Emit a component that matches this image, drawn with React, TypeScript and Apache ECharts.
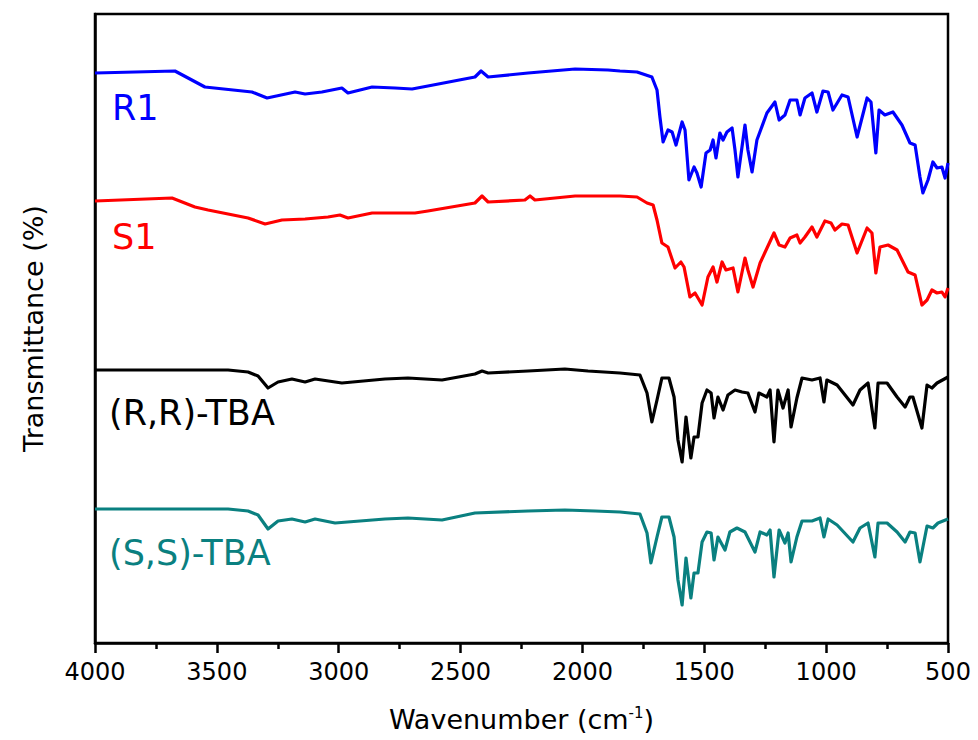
import React, { useEffect, useRef } from "react";
import * as echarts from "echarts";

// Wavenumber (cm-1) and offset transmittance (arbitrary units)
const r1Wn = [4000, 3672, 3549, 3356, 3294, 3179, 3138, 3069, 2987, 2962, 2863, 2769, 2699, 2634, 2441, 2416, 2387, 2223, 2030, 1895, 1846, 1776, 1715, 1694, 1682, 1669, 1649, 1632, 1616, 1591, 1579, 1563, 1542, 1530, 1513, 1493, 1476, 1464, 1452, 1436, 1423, 1407, 1386, 1374, 1362, 1333, 1321, 1304, 1284, 1243, 1210, 1193, 1169, 1148, 1120, 1107, 1087, 1058, 1038, 1013, 992, 972, 935, 910, 873, 832, 816, 796, 783, 759, 726, 689, 656, 635, 615, 603, 582, 562, 545, 525, 512, 500];
const r1T = [570, 572, 556, 551, 545, 551, 549, 551, 555, 550, 556, 555, 554, 557, 566, 572, 566, 570, 574, 573, 572, 571, 566, 553, 526, 501, 513, 511, 498, 521, 513, 463, 476, 470, 456, 490, 493, 503, 485, 510, 503, 511, 515, 493, 466, 518, 493, 471, 503, 530, 541, 523, 528, 543, 543, 528, 545, 550, 531, 552, 551, 533, 548, 546, 506, 545, 541, 490, 533, 528, 531, 518, 500, 498, 466, 450, 463, 481, 475, 476, 465, 480];

const s1Wn = [4000, 3684, 3590, 3536, 3372, 3302, 3233, 3138, 3044, 2995, 2962, 2863, 2798, 2687, 2634, 2441, 2412, 2387, 2236, 2215, 2195, 2030, 1895, 1846, 1776, 1735, 1710, 1694, 1674, 1649, 1620, 1596, 1583, 1559, 1538, 1509, 1485, 1464, 1448, 1427, 1411, 1382, 1362, 1333, 1321, 1300, 1271, 1214, 1193, 1169, 1148, 1120, 1107, 1087, 1058, 1038, 1005, 980, 964, 935, 910, 873, 832, 812, 796, 779, 746, 709, 664, 635, 607, 586, 566, 545, 525, 512, 500];
const s1T = [442, 445, 436, 433, 425, 419, 423, 424, 426, 428, 425, 430, 430, 430, 432, 440, 447, 441, 443, 447, 443, 447, 447, 447, 446, 440, 438, 423, 400, 396, 375, 381, 376, 346, 350, 338, 366, 376, 361, 381, 373, 375, 351, 385, 373, 356, 380, 410, 398, 396, 405, 408, 400, 406, 416, 406, 422, 420, 413, 419, 418, 390, 415, 410, 370, 396, 398, 393, 371, 368, 338, 343, 353, 350, 351, 346, 355];

const rrWn = [4000, 3454, 3372, 3331, 3290, 3249, 3192, 3138, 3097, 2987, 2810, 2716, 2576, 2441, 2412, 2387, 2223, 2072, 1977, 1846, 1764, 1735, 1715, 1694, 1674, 1645, 1624, 1608, 1591, 1575, 1555, 1542, 1526, 1509, 1489, 1472, 1460, 1444, 1423, 1403, 1374, 1345, 1321, 1292, 1276, 1243, 1230, 1214, 1198, 1177, 1156, 1144, 1120, 1099, 1058, 1025, 1009, 997, 955, 890, 861, 828, 800, 787, 750, 709, 676, 656, 644, 607, 586, 566, 545, 500];
const rrT = [273, 273, 271, 267, 255, 261, 264, 261, 264, 260, 264, 265, 263, 269, 272, 270, 272, 274, 272, 270, 268, 250, 221, 243, 265, 265, 246, 203, 181, 226, 185, 206, 206, 240, 253, 250, 225, 246, 233, 248, 253, 251, 250, 231, 250, 246, 253, 201, 253, 235, 253, 216, 245, 265, 263, 265, 241, 263, 258, 238, 253, 260, 215, 260, 260, 246, 236, 246, 246, 215, 258, 255, 260, 266];

const ssWn = [4000, 3454, 3372, 3331, 3290, 3249, 3192, 3138, 3097, 3015, 2810, 2716, 2576, 2441, 2223, 2072, 1948, 1846, 1764, 1735, 1719, 1694, 1674, 1645, 1624, 1608, 1591, 1575, 1555, 1542, 1526, 1509, 1489, 1472, 1460, 1444, 1415, 1395, 1366, 1333, 1292, 1271, 1243, 1230, 1214, 1193, 1169, 1156, 1144, 1120, 1099, 1058, 1025, 1009, 992, 955, 890, 861, 828, 800, 787, 750, 709, 676, 656, 635, 615, 586, 562, 541, 500];
const ssT = [134, 134, 132, 128, 114, 122, 124, 121, 124, 120, 124, 125, 123, 130, 132, 133, 132, 131, 129, 110, 80, 106, 126, 126, 106, 63, 38, 85, 45, 70, 70, 101, 111, 110, 83, 106, 93, 111, 115, 111, 91, 111, 108, 113, 66, 113, 100, 110, 81, 106, 122, 122, 125, 106, 124, 118, 101, 115, 120, 86, 120, 120, 111, 101, 111, 110, 81, 117, 115, 120, 124];

const xTicks = [4000, 3500, 3000, 2500, 2000, 1500, 1000, 500];
const seriesNames = ["R1", "S1", "(R,R)-TBA", "(S,S)-TBA"];
const seriesColors = ["#0000FF", "#FF0000", "#000000", "#0A8080"];

const FONT = "DejaVu Sans";

function pairs(xs: number[], ys: number[]) {
  return xs.map((x, i) => [x, ys[i]]);
}

export default function App() {
  const ref = useRef<HTMLDivElement>(null);
  useEffect(() => {
    if (!ref.current) return;
    const chart = echarts.init(ref.current, null, { renderer: "svg" });
    const datasets = [pairs(r1Wn, r1T), pairs(s1Wn, s1T), pairs(rrWn, rrT), pairs(ssWn, ssT)];
    const labelPos = [
      { x: 112, y: 108 },
      { x: 112, y: 237 },
      { x: 109, y: 413 },
      { x: 109, y: 553 },
    ];
    chart.setOption({
      animation: false,
      backgroundColor: "#ffffff",
      grid: {
        left: 95,
        right: 30,
        top: 14,
        bottom: 97,
        show: true,
        borderColor: "#000",
        borderWidth: 2.5,
      },
      xAxis: {
        type: "value",
        min: 500,
        max: 4000,
        interval: 500,
        inverse: true,
        axisLine: { show: true, lineStyle: { color: "#000", width: 2.5 } },
        axisTick: { show: true, inside: false, length: 10, lineStyle: { color: "#000", width: 2.5 } },
        minorTick: { show: true, splitNumber: 2, length: 6, lineStyle: { color: "#000", width: 2.5 } },
        splitLine: { show: false },
        axisLabel: {
          color: "#000",
          fontSize: 24,
          fontFamily: FONT,
          margin: 17,
          formatter: (v: number) => (xTicks.includes(v) ? String(v) : ""),
        },
        name: "{a|Wavenumber (cm}{s|-1}{a|)}",
        nameLocation: "middle",
        nameGap: 62,
        nameTextStyle: {
          rich: {
            a: { fontSize: 27, fontFamily: FONT, color: "#000" },
            s: { fontSize: 15, fontFamily: FONT, color: "#000", verticalAlign: "top", padding: [0, 0, 14, 0] },
          },
        },
      },
      yAxis: {
        type: "value",
        min: 0,
        max: 629,
        axisLine: { show: true, lineStyle: { color: "#000", width: 2.5 } },
        axisTick: { show: false },
        axisLabel: { show: false },
        splitLine: { show: false },
        name: "Transmittance (%)",
        nameLocation: "middle",
        nameGap: 48,
        nameTextStyle: { fontSize: 27, fontFamily: FONT, color: "#000" },
      },
      graphic: seriesNames.map((n, i) => ({
        type: "text",
        x: labelPos[i].x,
        y: labelPos[i].y,
        style: {
          text: n,
          fill: seriesColors[i],
          font: `35px "${FONT}"`,
          textVerticalAlign: "middle",
          verticalAlign: "middle",
        },
      })),
      series: datasets.map((d, i) => ({
        type: "line",
        name: seriesNames[i],
        data: d,
        showSymbol: false,
        smooth: false,
        lineStyle: { color: seriesColors[i], width: 3.2, join: "round" },
        itemStyle: { color: seriesColors[i] },
      })),
    });
    return () => chart.dispose();
  }, []);
  return <div ref={ref} style={{ width: 978, height: 740, position: "absolute", left: 0, top: 0 }} />;
}
